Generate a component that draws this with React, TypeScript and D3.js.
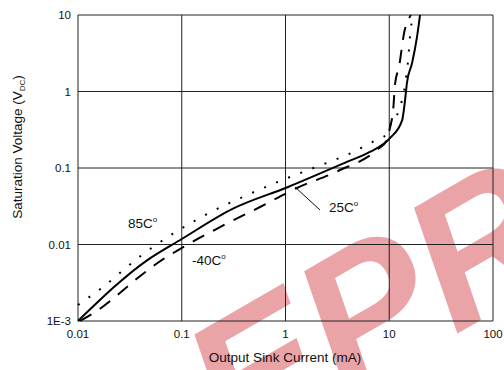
import React from 'react';
import * as d3 from 'd3';

// tick values and labels
const currentTicks = [0.01, 0.1, 1, 10, 100];
const currentTickLabels = ['0.01', '0.1', '1', '10', '100'];
const voltageTicks = [0.001, 0.01, 0.1, 1, 10];
const voltageTickLabels = ['1E-3', '0.01', '0.1', '1', '10'];

// 25C (solid)
const current25 = [0.01, 0.047, 0.1, 0.305, 1.06, 3.9, 6.5, 10.2, 13.3, 14.2, 14.8, 16.6, 18.5, 19.8];
const volt25 = [0.001, 0.0063, 0.0118, 0.029, 0.0565, 0.12, 0.162, 0.247, 0.42, 0.77, 1.29, 2.36, 5.15, 10];

// 85C (dotted)
const current85 = [0.01, 0.0174, 0.0379, 0.0841, 0.183, 0.407, 0.885, 1.97, 4.28, 7.13, 9.5, 10.2, 12.4, 14.2, 15.2, 15.9, 16.9];
const volt85 = [0.00162, 0.00278, 0.00667, 0.0141, 0.0258, 0.043, 0.0676, 0.103, 0.157, 0.225, 0.278, 0.36, 0.57, 1.22, 2.58, 5.5, 10];

// -40C (dashed)
const currentM40 = [0.0105, 0.0167, 0.026, 0.0387, 0.0604, 0.1, 0.234, 0.568, 1.29, 3.21, 7.6, 9.5, 10.2, 10.9, 11.4, 12.4, 13.9, 16.2];
const voltM40 = [0.001, 0.00148, 0.00239, 0.00376, 0.0059, 0.009, 0.0169, 0.0309, 0.0548, 0.0914, 0.172, 0.232, 0.344, 0.57, 1.29, 2.09, 5.8, 10];

const W = 504;
const H = 370;
const margin = { top: 15, right: 11, bottom: 49, left: 78 };
const font = '"Liberation Sans", Arial, sans-serif';

export default function App() {
  const x = d3.scaleLog().domain([0.01, 100]).range([margin.left, W - margin.right]);
  const y = d3.scaleLog().domain([0.001, 10]).range([H - margin.bottom, margin.top]);

  const line = d3.line<[number, number]>()
    .x(d => x(d[0]))
    .y(d => y(d[1]))
    .curve(d3.curveMonotoneX);

  const zip = (a: number[], b: number[]) => a.map((v, i) => [v, b[i]] as [number, number]);

  const x0 = x(0.01), x1 = x(100), y0 = y(0.001), y1 = y(10);

  return (
    <svg width={W} height={H} style={{ position: 'absolute', left: 0, top: 0 }} fontFamily={font}>
      <rect width={W} height={H} fill="#fff" />

      {/* watermark */}
      <text
        transform="translate(235,462) rotate(-30)"
        fontSize={190}
        fontWeight="bold"
        fontStyle="italic"
        fill="#eaa3a6"
      >
        EPR
      </text>

      {/* grid */}
      {currentTicks.map(t => (
        <line key={'gx' + t} x1={x(t)} x2={x(t)} y1={y1} y2={y0} stroke="#222" strokeWidth={1} />
      ))}
      {voltageTicks.map(t => (
        <line key={'gy' + t} x1={x0} x2={x1} y1={y(t)} y2={y(t)} stroke="#222" strokeWidth={1} />
      ))}

      {/* tick labels */}
      {voltageTicks.map((t, i) => (
        <text key={'ly' + t} x={71} y={y(t) + 4} textAnchor="end" fontSize={11.5} fill="#111">
          {voltageTickLabels[i]}
        </text>
      ))}
      {currentTicks.map((t, i) => (
        <text key={'lx' + t} x={x(t)} y={338} textAnchor="middle" fontSize={11.5} fill="#111">
          {currentTickLabels[i]}
        </text>
      ))}

      {/* curves */}
      <path d={line(zip(current85, volt85)) ?? ''} fill="none" stroke="#000" strokeWidth={2} strokeDasharray="2 11" />
      <path d={line(zip(currentM40, voltM40)) ?? ''} fill="none" stroke="#000" strokeWidth={2} strokeDasharray="13 10" />
      <path d={line(zip(current25, volt25)) ?? ''} fill="none" stroke="#000" strokeWidth={2} />

      {/* labels */}
      <text x={128} y={228} fontSize={13.5} fill="#111">
        85C<tspan fontSize={8} dy={-6}>o</tspan>
      </text>
      <text x={192} y={265} fontSize={13.5} fill="#111">
        -40C<tspan fontSize={8} dy={-6}>o</tspan>
      </text>
      <text x={329} y={212} fontSize={13.5} fill="#111">
        25C<tspan fontSize={8} dy={-6}>o</tspan>
      </text>
      <line x1={295} y1={187} x2={320} y2={210} stroke="#111" strokeWidth={1} />

      {/* axis titles */}
      <text x={285} y={362} textAnchor="middle" fontSize={13.5} fill="#111">
        Output Sink Current (mA)
      </text>
      <text transform="translate(22,147) rotate(-90)" textAnchor="middle" fontSize={13.5} fill="#111">
        Saturation Voltage (V<tspan fontSize={8} dy={3}>DC</tspan><tspan dy={-3}>)</tspan>
      </text>
    </svg>
  );
}
